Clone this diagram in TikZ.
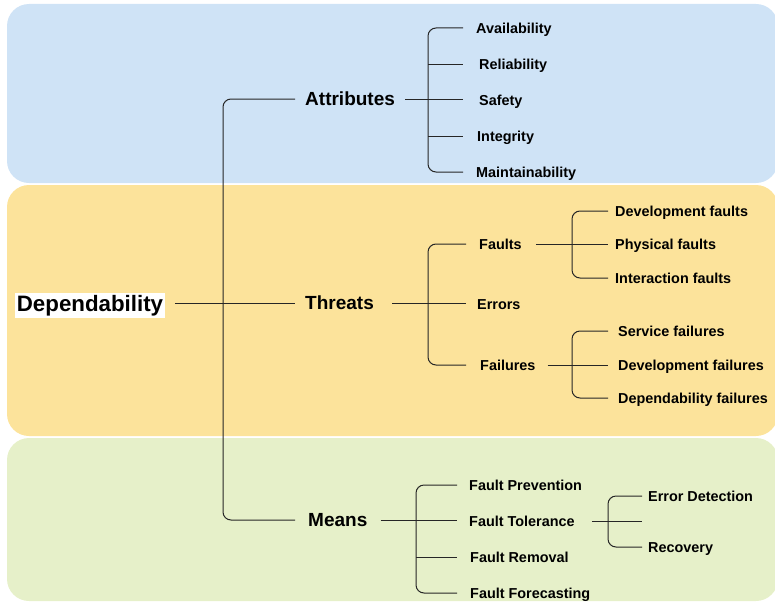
\documentclass[tikz,border=0pt]{standalone}
\usepackage{fontspec}
\setmainfont{Liberation Sans}
\begin{document}
\begin{tikzpicture}[x=1pt,y=-1pt,
  conn/.style={draw=black!85,line width=1pt},
  bar/.style={conn,rounded corners=8pt},
  panel/.style={rounded corners=22pt,draw=none},
  lbl/.style={anchor=west,inner sep=0pt,font=\bfseries\fontsize{14.4}{16}\selectfont,text height=10.3pt,text depth=0pt},
  big/.style={anchor=west,inner sep=0pt,font=\bfseries\fontsize{19}{22}\selectfont,text height=13.7pt,text depth=0pt}]
\definecolor{pblue}{HTML}{CFE3F6}
\definecolor{pyellow}{HTML}{FCE39B}
\definecolor{pgreen}{HTML}{E6F0C9}
\useasboundingbox (0,0) rectangle (775,602);
% panels
\fill[pblue,panel] (7,4) rectangle (778,183);
\fill[pyellow,panel] (7,185) rectangle (778,436);
\fill[pgreen,panel] (7,438) rectangle (778,601);
% root
\node[fill=white,inner xsep=1.5pt,inner ysep=2pt,font=\bfseries\fontsize{22.3}{26}\selectfont,text height=16pt,text depth=4.7pt] (dep) at (90,305.5) {Dependability};
% level 1
\node[big] (attr) at (305,99) {Attributes};
\node[big] (thr) at (305,303) {Threats};
\node[big] (means) at (308,520) {Means};
% attributes children
\node[lbl] (avail) at (476,28) {Availability};
\node[lbl] (rel) at (479,64) {Reliability};
\node[lbl] (safe) at (479,100) {Safety};
\node[lbl] (integ) at (477,136) {Integrity};
\node[lbl] (maint) at (476,172) {Maintainability};
% threats children
\node[lbl] (faults) at (479,244) {Faults};
\node[lbl] (errors) at (477,304) {Errors};
\node[lbl] (fail) at (480,365) {Failures};
\node[lbl] (devf) at (615,211) {Development faults};
\node[lbl] (phys) at (615,244) {Physical faults};
\node[lbl] (inter) at (615,278) {Interaction faults};
\node[lbl] (serv) at (618,331) {Service failures};
\node[lbl] (devfail) at (618,365) {Development failures};
\node[lbl] (depfail) at (618,398) {Dependability failures};
% means children
\node[lbl] (fprev) at (469,485) {Fault Prevention};
\node[lbl] (ftol) at (469,521) {Fault Tolerance};
\node[lbl] (frem) at (470,557) {Fault Removal};
\node[lbl] (ffore) at (470,593) {Fault Forecasting};
\node[lbl] (edet) at (648,496) {Error Detection};
\node[lbl] (recov) at (648,547) {Recovery};
% coordinates for bars
\coordinate (bR) at (223,0); \coordinate (eR) at (295,0);
\coordinate (bA) at (428,0); \coordinate (eA) at (463,0);
\coordinate (bT) at (428,0); \coordinate (eT) at (466,0);
\coordinate (bF) at (572,0); \coordinate (eF) at (608,0);
\coordinate (bM) at (416,0); \coordinate (eM) at (457,0);
\coordinate (bTol) at (608,0); \coordinate (eTol) at (642,0);
% main tree
\draw[bar] (attr.west -| eR) -- (attr.west -| bR) -- (means.west -| bR) -- (means.west -| eR);
\draw[conn] ([xshift=10pt]dep.east |- thr.west) -- (thr.west -| eR);
% attributes
\draw[bar] (avail.west -| eA) -- (avail.west -| bA) -- (maint.west -| bA) -- (maint.west -| eA);
\draw[conn] ([xshift=10pt]attr.east) -- (attr.east -| eA);
\draw[conn] (rel.west -| bA) -- (rel.west -| eA);
\draw[conn] (integ.west -| bA) -- (integ.west -| eA);
% threats
\draw[bar] (faults.west -| eT) -- (faults.west -| bT) -- (fail.west -| bT) -- (fail.west -| eT);
\draw[conn] ([xshift=18pt]thr.east) -- (thr.east -| eT);
% faults
\draw[bar] (devf.west -| eF) -- (devf.west -| bF) -- (inter.west -| bF) -- (inter.west -| eF);
\draw[conn] ([xshift=14pt]faults.east) -- (faults.east -| eF);
% failures
\draw[bar] (serv.west -| eF) -- (serv.west -| bF) -- (depfail.west -| bF) -- (depfail.west -| eF);
\draw[conn] ([xshift=12pt]fail.east) -- (fail.east -| eF);
% means
\draw[bar] (fprev.west -| eM) -- (fprev.west -| bM) -- (ffore.west -| bM) -- (ffore.west -| eM);
\draw[conn] ([xshift=13pt]means.east) -- (means.east -| eM);
\draw[conn] (frem.west -| bM) -- (frem.west -| eM);
% fault tolerance
\draw[bar] (edet.west -| eTol) -- (edet.west -| bTol) -- (recov.west -| bTol) -- (recov.west -| eTol);
\draw[conn] ([xshift=17pt]ftol.east) -- (ftol.east -| eTol);
\end{tikzpicture}
\end{document}
